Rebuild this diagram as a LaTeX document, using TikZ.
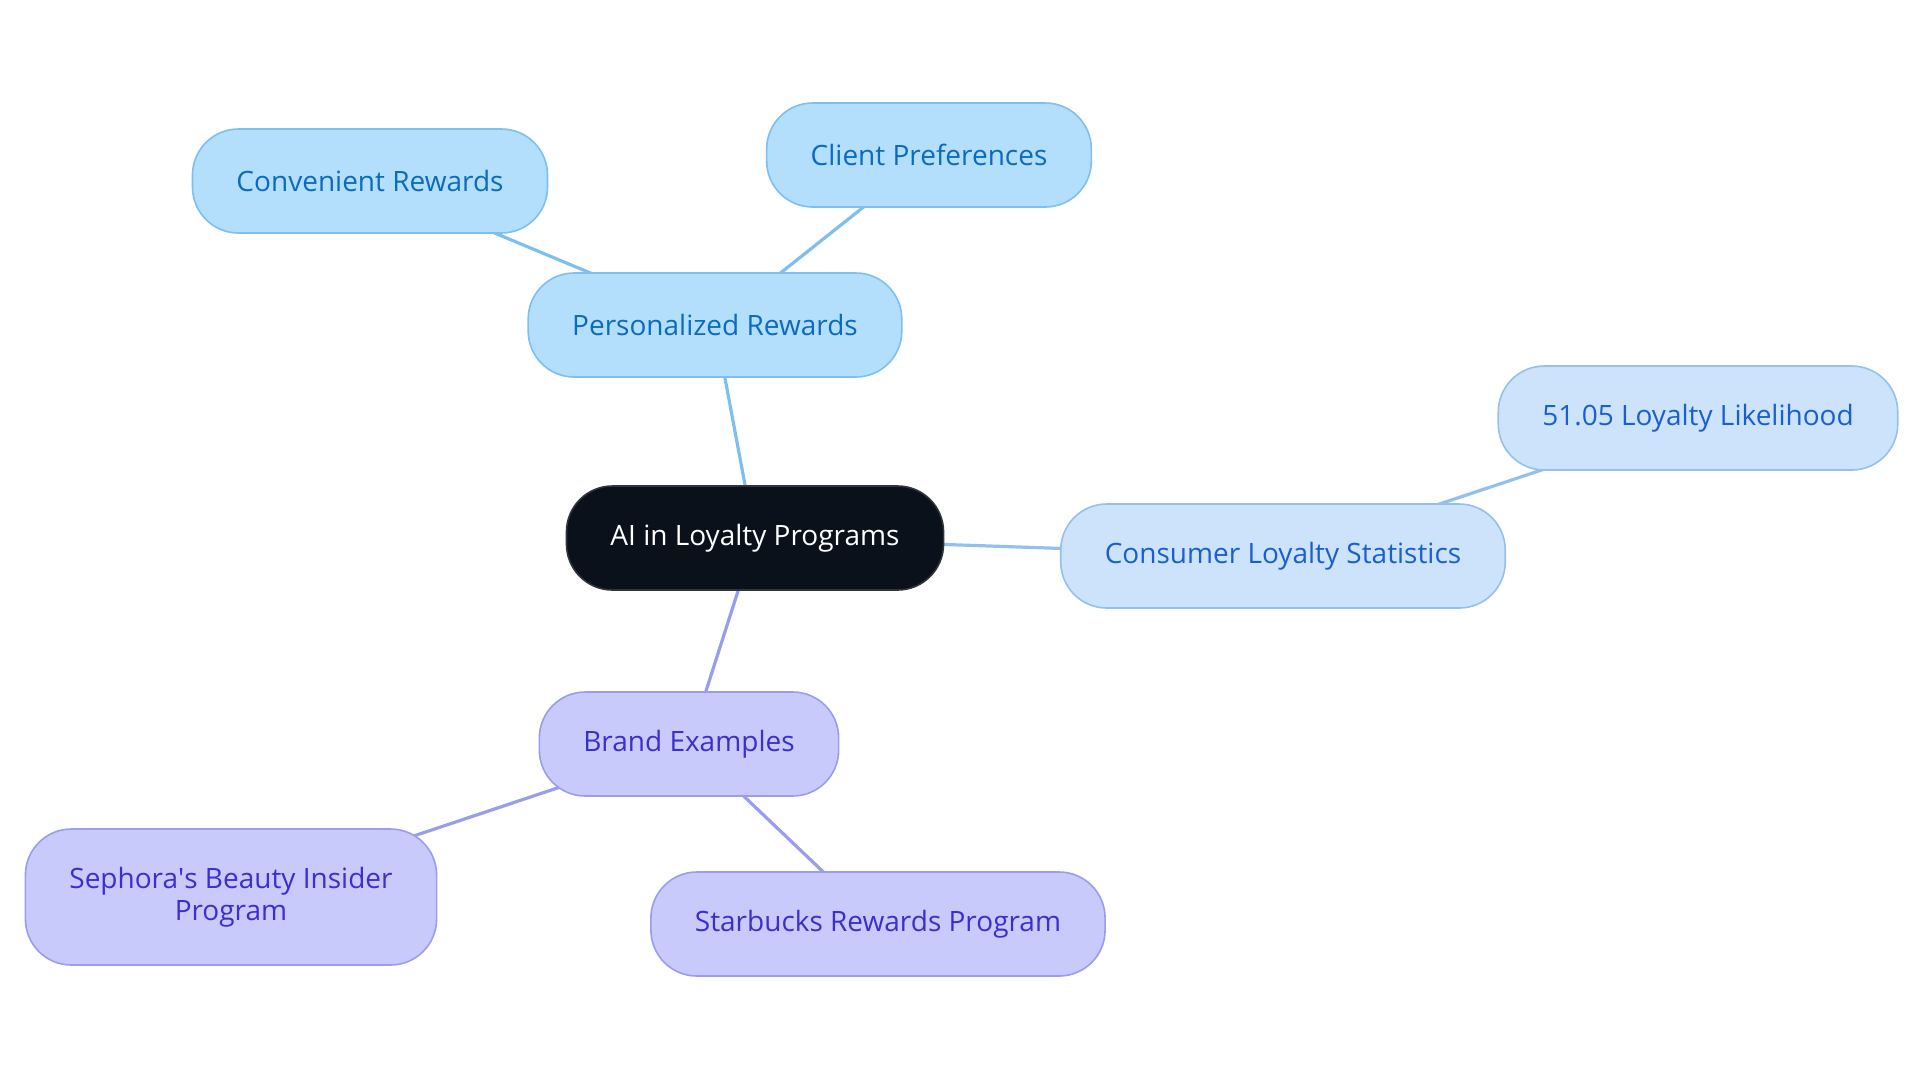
\documentclass[tikz,border=0pt]{standalone}
\usepackage{fontspec}
\setmainfont{Open Sans}
\usepackage{tikz}
\usetikzlibrary{positioning,backgrounds}
\definecolor{rootfill}{HTML}{0B111B}
\definecolor{rootline}{HTML}{30353C}
\definecolor{bluefill}{HTML}{B3DFFD}
\definecolor{blueline}{HTML}{7DBFF0}
\definecolor{bluetext}{HTML}{0B6BBF}
\definecolor{skyfill}{HTML}{CDE3FB}
\definecolor{skyline}{HTML}{94C0EE}
\definecolor{skytext}{HTML}{1A5FD0}
\definecolor{lilacfill}{HTML}{C8CAFC}
\definecolor{lilacline}{HTML}{9A9CEF}
\definecolor{lilactext}{HTML}{3A2FCF}

\begin{document}
\begin{tikzpicture}[
    x=0.5pt, y=-0.5pt,
    font=\fontsize{14}{16}\selectfont,
    topic/.style={draw, rounded corners=23pt, minimum height=52pt,
                  inner xsep=22pt, align=center, line width=0.8pt},
    root/.style={topic, fill=rootfill, draw=rootline, text=white},
    pers/.style={topic, fill=bluefill, draw=blueline, text=bluetext},
    stat/.style={topic, fill=skyfill, draw=skyline, text=skytext},
    brand/.style={topic, fill=lilacfill, draw=lilacline, text=lilactext},
    link/.style={line width=1.6pt}
]
\useasboundingbox (0,0) rectangle (1920,1083);
\node[root] (ai) at (755,538) {AI in Loyalty Programs};
\node[pers] (rewards) at (715,325) {Personalized Rewards};
\node[pers] (convenient) at (370,181) {Convenient Rewards};
\node[pers] (prefs) at (929,155) {Client Preferences};
\node[stat] (consumer) at (1283,556) {Consumer Loyalty Statistics};
\node[stat] (likely) at (1698,418) {51.05 Loyalty Likelihood};
\node[brand] (brands) at (689,744) {Brand Examples};
\node[brand, minimum height=68pt] (sephora) at (231,897) {Sephora\textquotesingle s Beauty Insider\\Program};
\node[brand] (starbucks) at (878,924) {Starbucks Rewards Program};
\begin{scope}[on background layer]
\draw[link, blueline] (ai.center) -- (rewards.center);
\draw[link, blueline] (rewards.center) -- (convenient.center);
\draw[link, blueline] (rewards.center) -- (prefs.center);
\draw[link, skyline] (ai.center) -- (consumer.center);
\draw[link, skyline] (consumer.center) -- (likely.center);
\draw[link, lilacline] (ai.center) -- (brands.center);
\draw[link, lilacline] (brands.center) -- (sephora.center);
\draw[link, lilacline] (brands.center) -- (starbucks.center);
\end{scope}
\end{tikzpicture}
\end{document}
